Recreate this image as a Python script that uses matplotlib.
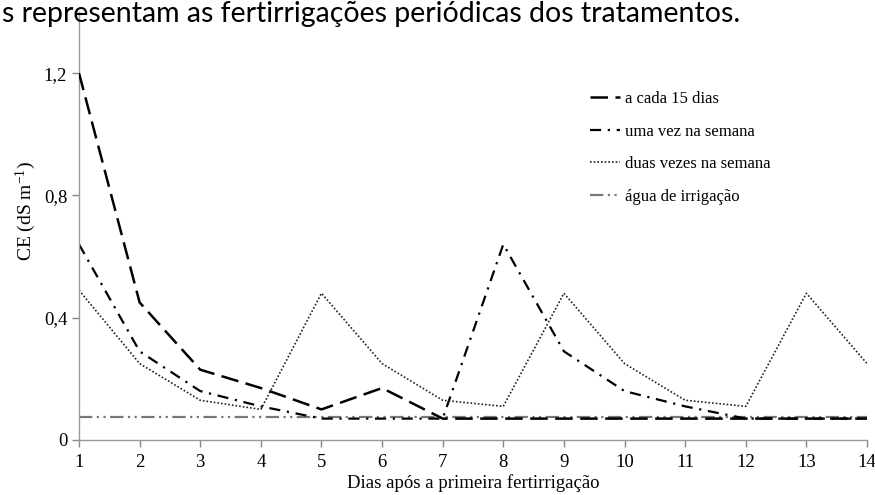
import matplotlib
matplotlib.use("Agg")
import matplotlib.pyplot as plt

dias = list(range(1, 15))
a_cada_15 = [1.20, 0.45, 0.23, 0.17, 0.10, 0.17, 0.07, 0.07, 0.07, 0.07, 0.07, 0.07, 0.07, 0.07]
uma_vez = [0.64, 0.29, 0.16, 0.11, 0.07, 0.07, 0.07, 0.64, 0.29, 0.16, 0.11, 0.07, 0.07, 0.07]
duas_vezes = [0.49, 0.25, 0.13, 0.10, 0.48, 0.25, 0.13, 0.11, 0.48, 0.25, 0.13, 0.11, 0.48, 0.25]
agua = [0.075] * 14
yticks = [0, 0.4, 0.8, 1.2]
ytick_labels = ["0", "0,4", "0,8", "1,2"]
labels = ["a cada 15 dias", "uma vez na semana", "duas vezes na semana", "água de irrigação"]

plt.rcParams['font.family'] = ['Liberation Serif', 'DejaVu Serif']
plt.rcParams['mathtext.fontset'] = 'custom'
plt.rcParams['mathtext.rm'] = 'Liberation Serif'
plt.rcParams['mathtext.it'] = 'Liberation Serif:italic'

fig = plt.figure(figsize=(8.75, 4.95), dpi=100)
ax = fig.add_axes([79/875, 1 - 440/495, (867-79)/875, (440-12)/495])

ax.plot(dias, agua, color='#777777', lw=1.6, dashes=(6, 2, 1, 2, 1, 2), label=labels[3], zorder=1)
ax.plot(dias, a_cada_15, color='black', lw=1.8, dashes=(7, 3), label=labels[0], zorder=3)
ax.plot(dias, uma_vez, color='black', lw=1.6, dashes=(5, 3, 1, 3), label=labels[1], zorder=2)
ax.plot(dias, duas_vezes, color='#222222', lw=1.2, dashes=(1, 1.2), label=labels[2], zorder=2)

ax.set_xlim(1, 14)
ax.set_ylim(0, 1.4)
ax.set_xticks(dias)
ax.set_yticks(yticks)
ax.set_yticklabels(ytick_labels)
ax.tick_params(axis='both', labelsize=13.5, color='#888888', length=5, width=1)
ax.tick_params(axis='x', pad=5)
for s in ['top', 'right']:
    ax.spines[s].set_visible(False)
for s in ['left', 'bottom']:
    ax.spines[s].set_color('#999999')
    ax.spines[s].set_linewidth(1)

ax.set_xlabel("Dias após a primeira fertirrigação", fontsize=13.5, labelpad=2)
ax.set_ylabel("CE (dS m$^{-1}$)", fontsize=14)
ax.yaxis.set_label_coords(-0.052, 0.535)

h, l = ax.get_legend_handles_labels()
order = [1, 2, 3, 0]
leg = ax.legend([h[i] for i in order], [l[i] for i in order], loc='upper left',
                bbox_to_anchor=(0.63, 0.85), frameon=False, fontsize=12,
                handlelength=1.8, handletextpad=0.3, labelspacing=0.99)

fig.text(2/875, 1 - 22/495, "s representam as fertirrigações periódicas dos tratamentos.",
         ha='left', va='baseline', fontsize=20.5, family=['Lato', 'DejaVu Sans'])

fig.savefig("out.png", dpi=100)
